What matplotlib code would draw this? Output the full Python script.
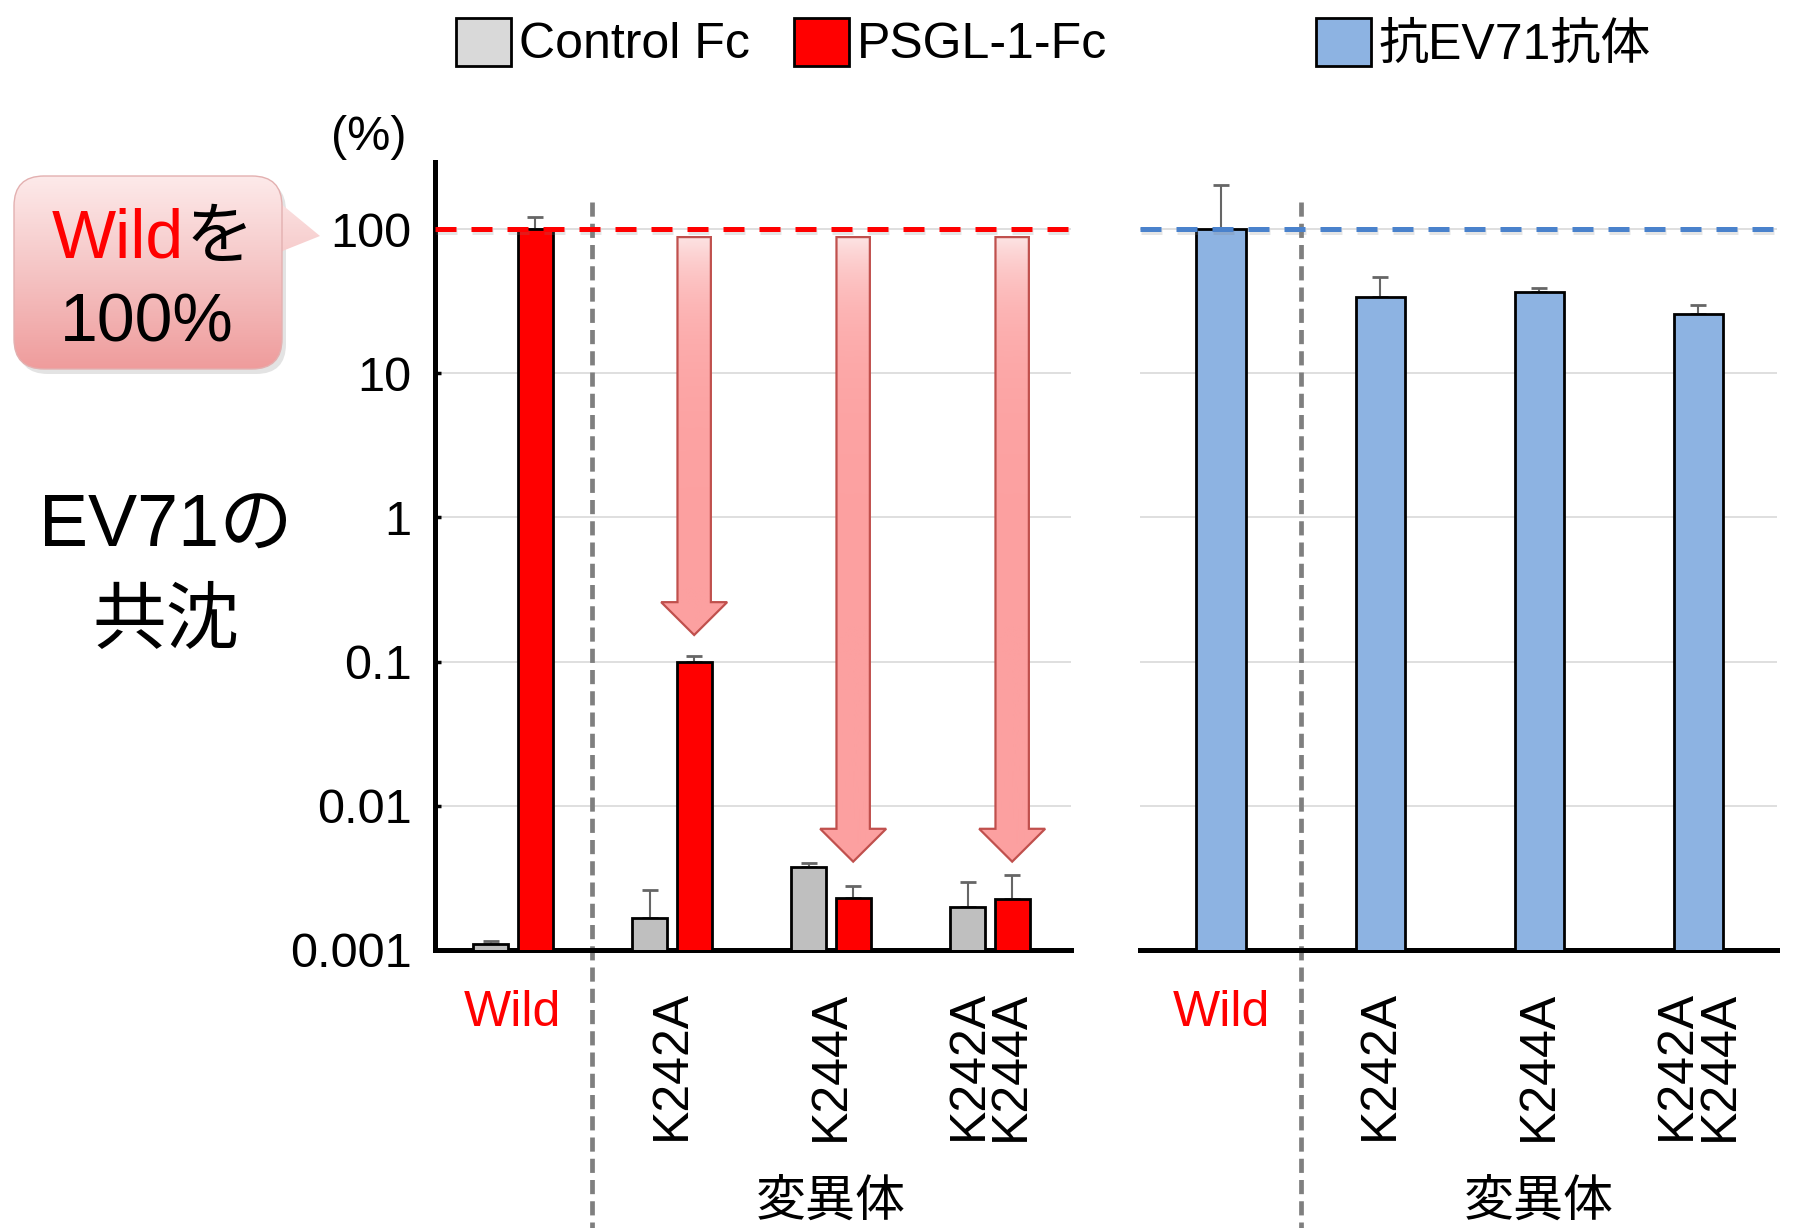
import numpy as np
import matplotlib
matplotlib.use('Agg')
import matplotlib.pyplot as plt
import matplotlib.transforms as mtransforms
import matplotlib.patheffects as pe
from matplotlib.patches import Patch, Polygon, FancyBboxPatch
from matplotlib.colors import LinearSegmentedColormap

plt.rcParams['font.family'] = ['Liberation Sans', 'Noto Sans CJK JP', 'DejaVu Sans']

# data (log scale, %)
groups = ['Wild', 'K242A', 'K244A', 'K242A\nK244A']
control_fc = [0.0011, 0.00168, 0.00377, 0.00199]
control_fc_err = [0.00005, 0.00094, 0.00022, 0.00098]
psgl1_fc = [100, 0.0999, 0.00229, 0.00226]
psgl1_fc_err = [22, 0.0101, 0.0005, 0.00104]
anti_ev71 = [100, 34.0, 36.7, 25.8]
anti_ev71_err = [102, 12.5, 2.6, 3.8]

# decreasing arrows (from the 100% line down to these tips)
arrow_groups = [1, 2, 3]
arrow_tips = [0.153, 0.0041, 0.0041]
ARROW_TOP = 88

yticks = [0.001, 0.01, 0.1, 1, 10, 100]
ytick_labels = ['0.001', '0.01', '0.1', '1', '10', '100']

W, H = 1809, 1228
fig = plt.figure(figsize=(W / 100, H / 100), dpi=100)

# overlay in pixel coords for the callout and free labels
ov = fig.add_axes([0, 0, 1, 1])
ov.set_xlim(0, W)
ov.set_ylim(H, 0)
ov.axis('off')

axL = fig.add_axes([435 / W, 1 - 950 / H, 636 / W, 788 / H])
axR = fig.add_axes([1140 / W, 1 - 950 / H, 637 / W, 788 / H])

x = np.arange(len(groups))
zeros = np.zeros(len(groups))
off = 0.14
bw = 0.22

# left panel: Control Fc vs PSGL-1-Fc
axL.bar(x - off, control_fc, bw, color='#bfbfbf', edgecolor='black', lw=2, zorder=3)
axL.bar(x + off, psgl1_fc, bw, color='#ff0000', edgecolor='black', lw=2, zorder=3)
axL.errorbar(x - off, control_fc, yerr=[zeros, control_fc_err], fmt='none',
             ecolor='#666666', elinewidth=1.5, capsize=6, capthick=2, zorder=2.5)
axL.errorbar(x + off, psgl1_fc, yerr=[zeros, psgl1_fc_err], fmt='none',
             ecolor='#666666', elinewidth=1.5, capsize=6, capthick=2, zorder=2.5)

# right panel: anti-EV71 antibody
axR.bar(x, anti_ev71, 0.31, color='#8db3e2', edgecolor='black', lw=2, zorder=3)
axR.errorbar(x, anti_ev71, yerr=[zeros, anti_ev71_err], fmt='none',
             ecolor='#666666', elinewidth=1.5, capsize=6, capthick=2, zorder=2.5)

shadow = [pe.SimpleLineShadow(offset=(0.5, -2), shadow_color='gray', alpha=0.2), pe.Normal()]
axL.axhline(100, color='#ff0000', lw=3.6, dashes=(4.2, 3), zorder=5, path_effects=shadow)
axR.axhline(100, color='#4a82cc', lw=3.6, dashes=(4.2, 3), zorder=5, path_effects=shadow)

# arrows with a pink gradient
arrow_cmap = LinearSegmentedColormap.from_list('arr', ['#fde4e4', '#fca0a0'])
grad = np.linspace(0, 1, 256).reshape(-1, 1)
shaft_w, head_w, head_ratio = 0.21, 0.415, 1.69
for g, tip in zip(arrow_groups, arrow_tips):
    cx = g + off
    base = tip * head_ratio
    verts = [(cx - shaft_w / 2, ARROW_TOP), (cx - shaft_w / 2, base), (cx - head_w / 2, base),
             (cx, tip), (cx + head_w / 2, base), (cx + shaft_w / 2, base),
             (cx + shaft_w / 2, ARROW_TOP)]
    poly = Polygon(verts, closed=True, facecolor='none', edgecolor='#c0504d', lw=1.6, zorder=4.5)
    axL.add_patch(poly)
    img = axL.imshow(grad, cmap=arrow_cmap, extent=[cx - head_w / 2, cx + head_w / 2, tip, ARROW_TOP],
                     aspect='auto', zorder=4, interpolation='bilinear')
    img.set_clip_path(poly)

for ax, xl in ((axL, (-0.49, 3.51)), (axR, (-0.51, 3.495))):
    ax.set_yscale('log')
    ax.set_ylim(0.001, 292)
    ax.set_xlim(*xl)
    ax.set_yticks(yticks)
    ax.minorticks_off()
    ax.grid(axis='y', color='#d9d9d9', lw=1.2, zorder=0)
    ax.set_axisbelow(True)
    for s in ('top', 'right'):
        ax.spines[s].set_visible(False)
    ax.spines['bottom'].set_linewidth(3.6)
    ax.set_xticks(x)
    ax.set_xticklabels(groups, fontsize=36)
    ax.tick_params(axis='x', length=0, pad=29)
    for i, lab in enumerate(ax.get_xticklabels()):
        if i == 0:
            lab.set_color('#ff0000')
        else:
            lab.set_rotation(90)
            lab.set_linespacing(0.9)
    # separator between wild type and mutants
    tr = mtransforms.blended_transform_factory(ax.transData, ax.transAxes)
    ax.plot([0.5, 0.5], [0.949, -0.36], transform=tr, clip_on=False, color='#7f7f7f',
            lw=3.4, dashes=(3.0, 1.5), zorder=2)
    ax.text(2, -0.32, '変異体', transform=tr, ha='center', va='center', fontsize=36)

axL.set_yticklabels(ytick_labels)
axL.tick_params(axis='y', direction='in', length=4, width=2.5, labelsize=35, pad=17)
axL.spines['left'].set_linewidth(3.6)
axR.spines['left'].set_visible(False)
axR.tick_params(axis='y', length=0, labelleft=False)

# legends
fig.legend(handles=[Patch(fc='#d9d9d9', ec='black', lw=2, label='Control Fc'),
                    Patch(fc='#ff0000', ec='black', lw=2, label='PSGL-1-Fc')],
           loc='center left', bbox_to_anchor=(456 / W, 1 - 43 / H), ncol=2, frameon=False,
           fontsize=36, handlelength=1.1, handleheight=1.1, handletextpad=0.16,
           columnspacing=0.88, borderpad=0, borderaxespad=0)
fig.legend(handles=[Patch(fc='#8db3e2', ec='black', lw=2, label='抗EV71抗体')],
           loc='center left', bbox_to_anchor=(1316 / W, 1 - 43 / H), frameon=False,
           fontsize=36, handlelength=1.1, handleheight=1.1, handletextpad=0.16,
           borderpad=0, borderaxespad=0)

# callout "Wild を 100%"
box_kw = dict(boxstyle='round,pad=0,rounding_size=30')
tri = [(280, 203), (320, 236), (280, 252)]
ov.add_patch(FancyBboxPatch((18, 181), 268, 193, fc='#b0b0b0', ec='none', alpha=0.35, **box_kw))
box = FancyBboxPatch((14, 176), 268, 193, fc='none', ec='#e3b0b0', lw=1, zorder=3, **box_kw)
ov.add_patch(box)
tri_patch = Polygon(tri, closed=True, fc='none', ec='none', zorder=3)
ov.add_patch(tri_patch)
callout_cmap = LinearSegmentedColormap.from_list('call', ['#fdeaea', '#f5c4c4', '#ef9c9c'])
for clip in (box, tri_patch):
    im = ov.imshow(grad, cmap=callout_cmap, extent=[14, 320, 369, 176], aspect='auto', zorder=2)
    im.set_clip_path(clip)
ov.set_xlim(0, W)
ov.set_ylim(H, 0)
ov.text(184, 258, 'Wild', ha='right', va='baseline', fontsize=49, color='#ff0000', zorder=5)
ov.text(186, 258, 'を', ha='left', va='baseline', fontsize=49, zorder=5)
ov.text(147, 342, '100%', ha='center', va='baseline', fontsize=49, zorder=5)

ov.text(369, 137, '(%)', ha='center', va='center', fontsize=35)
ov.text(166, 575, 'EV71の\n共沈', ha='center', va='center', fontsize=53,
        linespacing=1.5, multialignment='center')

fig.savefig('out.png', dpi=100)
